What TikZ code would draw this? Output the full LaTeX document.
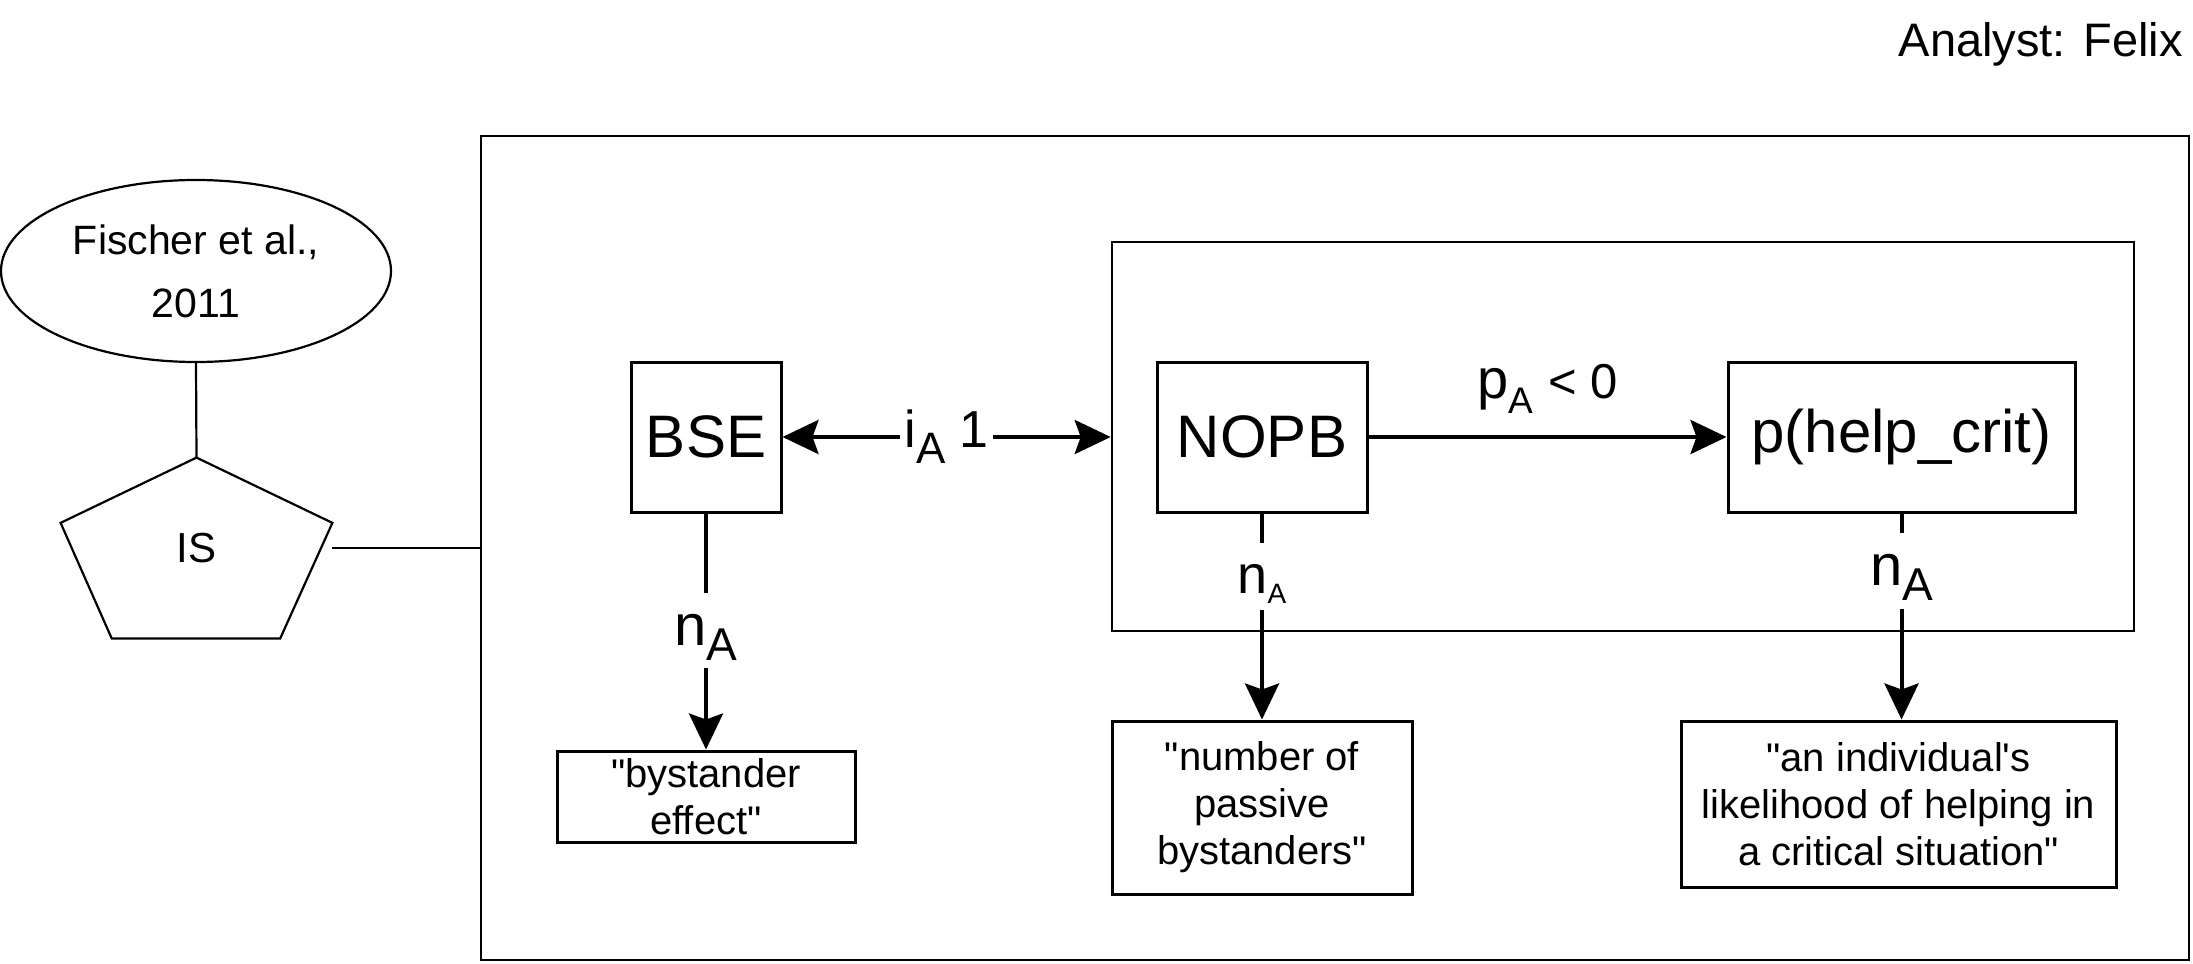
\documentclass[tikz,border=0pt]{standalone}
\usepackage{fontspec}
\setmainfont{Liberation Sans}[Ligatures=TeXOff]
\usetikzlibrary{arrows.meta,shapes.geometric,calc}
\newcommand{\fs}[1]{\fontsize{#1}{#1}\selectfont}
\newcommand{\lowsub}[3]{\raisebox{-#2}{\fs{#1}#3}}
\begin{document}
\begin{tikzpicture}[x=0.5pt,y=-0.5pt,
  box/.style={draw, line width=1.5pt, inner sep=0pt, align=center},
  thinline/.style={line width=1.1pt},
  arr/.style={line width=2pt, -{Stealth[length=18pt,width=17pt,inset=3pt]}},
  darr/.style={line width=2pt, {Stealth[length=18pt,width=17pt,inset=3pt]}-{Stealth[length=18pt,width=17pt,inset=3pt]}},
  desc/.style={box, font=\fontsize{20}{23.5}\selectfont},
  nlab/.style={fill=white, inner xsep=2pt, inner ysep=0pt}
]
\useasboundingbox (0,0) rectangle (2193,963);

% containers
\node[draw, line width=1.3pt, minimum width=854pt, minimum height=412pt, inner sep=0pt] (outer) at (1335,548) {};
\node[draw, line width=1.3pt, minimum width=511pt, minimum height=194.5pt, inner sep=0pt] (inner) at (1623,436.5) {};

% left side
\node[draw, thinline, ellipse, minimum width=195pt, minimum height=91pt, inner sep=0pt, align=center,
      font=\fontsize{20.5}{31.5}\selectfont] (fischer) at (196,271) {Fischer et al.,\\2011};
\node[inner sep=0pt, minimum width=135.5pt, minimum height=90pt, font=\fs{21}] (is) at (196.5,548) {IS};
\draw[thinline] (is.north)
  -- ($(is.north east)!0.361!(is.south east)$)
  -- ($(is.south west)!0.808!(is.south east)$)
  -- ($(is.south west)!0.188!(is.south east)$)
  -- ($(is.north west)!0.361!(is.south west)$) -- cycle;
\draw[thinline] (fischer.south) -- (is.north);
\draw[thinline] (is.east) -- (is.east -| outer.west);

% analyst
\node[anchor=base east, inner sep=0pt, font=\fs{23.5}] (analyst) at (2183,57) {Analyst: Felix};

% main boxes
\node[box, minimum width=75pt, minimum height=75pt, font=\fs{30}] (bse) at (706,437) {BSE};
\node[box, minimum width=105pt, minimum height=75pt, font=\fs{30}] (nopb) at (1262,437) {NOPB};
\node[box, minimum width=173.5pt, minimum height=75pt, font=\fs{30}] (help) at (1901.5,437) {p(help\_crit)};

% description boxes
\node[desc, minimum width=149pt, minimum height=45.5pt] (d1) at (706,796.5) {"bystander\\effect"};
\node[desc, minimum width=150pt, minimum height=86.5pt] (d2) at (1262,807.5) {"number of\\passive\\bystanders"};
\node[desc, minimum width=217.5pt, minimum height=83pt] (d3) at (1898.5,804) {"an individual's\\likelihood of helping in\\a critical situation"};

% connectors
\draw[darr] (bse.east) -- node[fill=white, inner xsep=2pt, inner ysep=4pt, font=\fs{26}] (ilab) {i\lowsub{22}{8pt}{A} 1} (bse.east -| inner.west);
\draw[arr] (nopb.east) -- node[anchor=base, yshift=19.5pt, inner sep=0pt, font=\fs{28}] (plab) {p\lowsub{18.5}{7.5pt}{A} {\fs{24.5}< 0}} (help.west);

\draw[arr] (bse.south) -- node[nlab, pos=0.496, text height=26pt, text depth=11.5pt, font=\fs{29}] (n1) {n\lowsub{23}{7.5pt}{A}} (d1.north);
\draw[arr] (nopb.south) -- node[nlab, pos=0.304, text height=25.5pt, text depth=8pt, font=\fs{27}] (n2) {n\lowsub{14}{5pt}{A}} (d2.north);
\draw[arr] (help.south) -- node[nlab, pos=0.28, text height=26pt, text depth=12pt, font=\fs{29}] (n3) {n\lowsub{23}{7.5pt}{A}} (help.south |- d3.north);
\end{tikzpicture}
\end{document}
